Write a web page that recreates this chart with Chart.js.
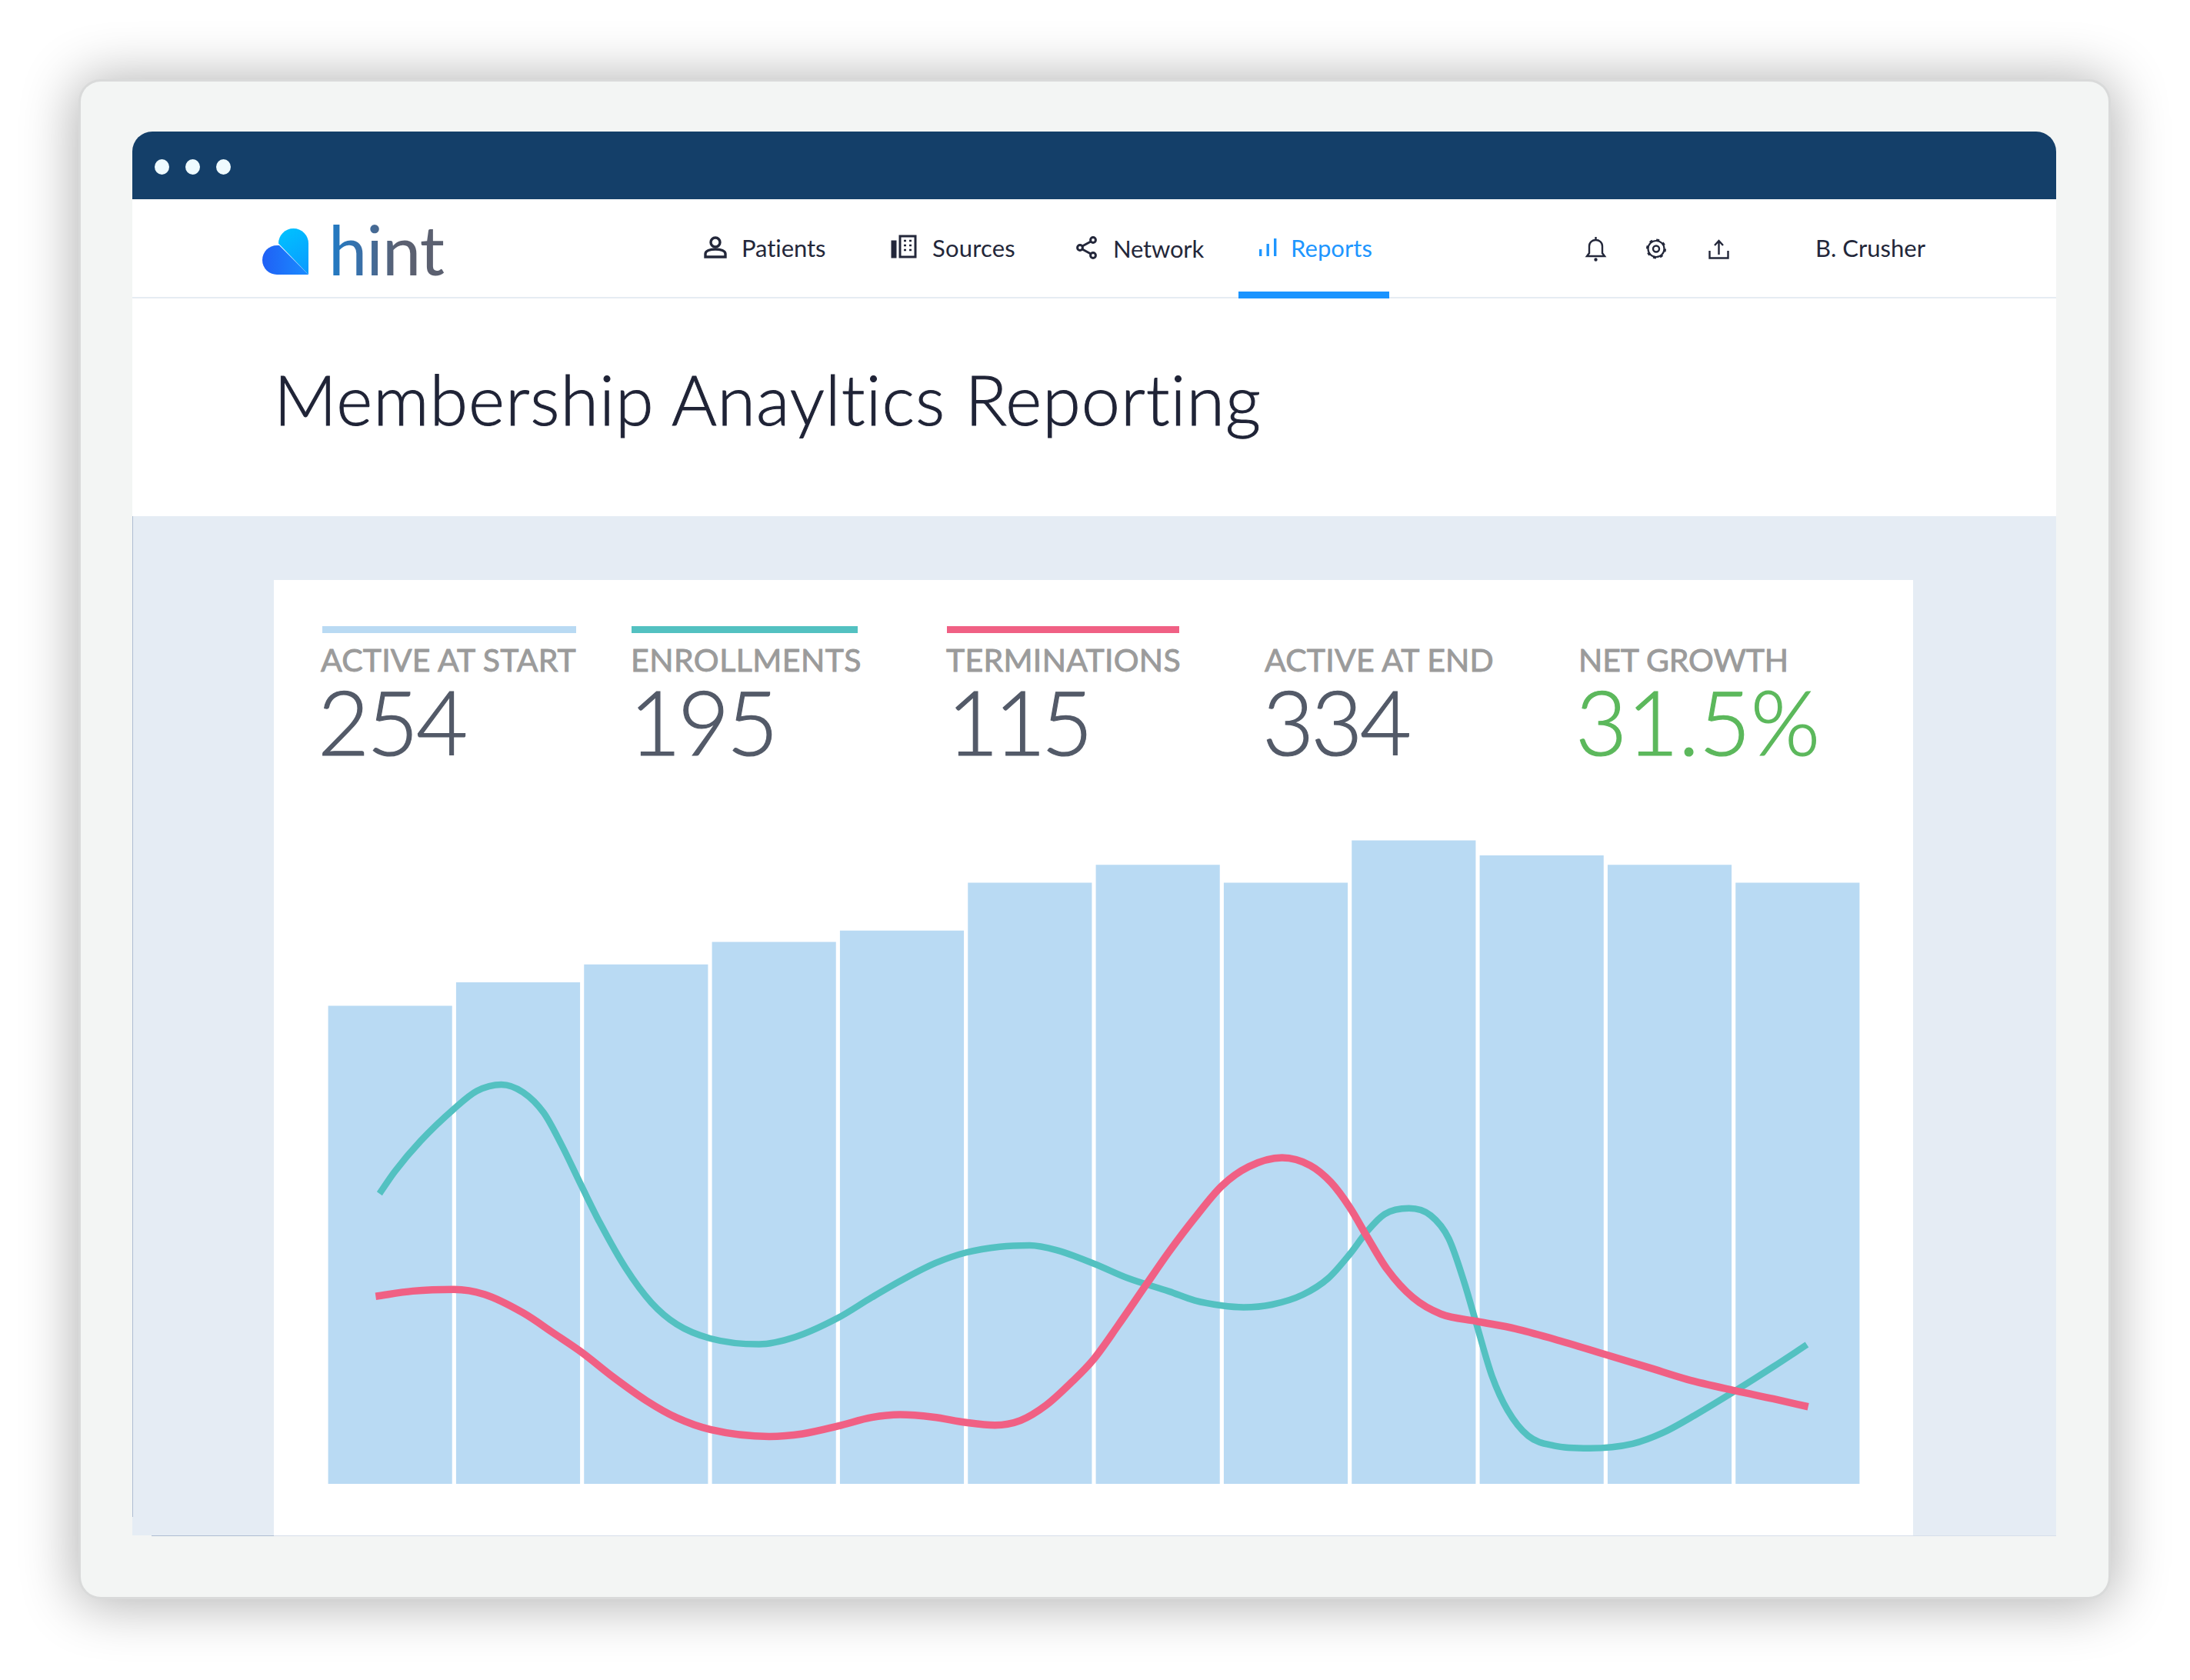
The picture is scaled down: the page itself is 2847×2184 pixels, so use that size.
<!DOCTYPE html>
<html>
<head>
<meta charset="utf-8">
<title>Membership Anayltics Reporting</title>
<script src="https://cdn.jsdelivr.net/npm/chart.js@4"></script>
<style>
  html, body { margin: 0; background: #fff; }
  #page { position: relative; width: 2847px; height: 2184px; overflow: hidden; font-family: Lato, "Open Sans", sans-serif; }
  .box { position: absolute; }
  .txt { position: absolute; white-space: nowrap; line-height: 1; }
  .nav { font-size: 31px; font-weight: 400; color: #23273A; }
  .label { font-size: 41px; font-weight: 400; color: #9B9B9B; -webkit-text-stroke: 0.9px #9B9B9B; }
  .num { font-size: 116px; font-weight: 300; color: #535A68; -webkit-text-stroke: 1.2px #535A68; }
  svg { position: absolute; overflow: visible; }
  canvas { position: absolute; left: 424px; top: 1061px; }
</style>
</head>
<body>
<div id="page">
  <div class="box" style="left:105px;top:106px;width:2636px;height:1970px;background:#F3F5F4;border-radius:26px;box-shadow:0 0 0 3px #D9DADA,0 3px 70px 8px rgba(0,0,0,.30)"></div>
  <div class="box" style="left:172px;top:259px;width:2501px;height:412px;background:#fff"></div>
  <div class="box" style="left:172px;top:671px;width:2501px;height:1325px;background:#E5ECF4"></div>
  <div class="box" style="left:172px;top:671px;width:1px;height:1301px;background:#AEBDD2"></div>
  <div class="box" style="left:197px;top:1996px;width:159px;height:1px;background:#AEBDD2"></div>
  <div class="box" style="left:356px;top:1996px;width:2317px;height:1px;background:#D6DFEB"></div>
  <div class="box" style="left:356px;top:754px;width:2131px;height:1242px;background:#fff"></div>

  <!-- window bar -->
  <div class="box" style="left:172px;top:171px;width:2501px;height:88px;background:#143F69;border-radius:26px 26px 0 0"></div>
  <div class="box" style="left:201px;top:207px;width:19px;height:20px;border-radius:50%;background:#EFFBFF"></div>
  <div class="box" style="left:241px;top:207px;width:19px;height:20px;border-radius:50%;background:#EFFBFF"></div>
  <div class="box" style="left:281px;top:207px;width:19px;height:20px;border-radius:50%;background:#EFFBFF"></div>

  <!-- nav -->
  <div class="box" style="left:172px;top:386px;width:2501px;height:2px;background:#E6ECF3"></div>
  <div class="box" style="left:1610px;top:379px;width:196px;height:9px;background:#1A94FF"></div>

  <svg style="left:341px;top:297px" width="60" height="60" viewBox="0 0 60 60">
    <defs>
      <linearGradient id="logoBack" x1="0.3" y1="0" x2="0.7" y2="1"><stop offset="0" stop-color="#00C0FF"/><stop offset="1" stop-color="#0A9CFF"/></linearGradient>
      <linearGradient id="logoFront" x1="0" y1="0" x2="1" y2="0"><stop offset="0" stop-color="#2060F5"/><stop offset="1" stop-color="#1A8CFF"/></linearGradient>
    </defs>
    <path d="M21 19.500 A19.500 19.500 0 0 1 60 19.500 V60 Z" fill="url(#logoBack)"/>
    <path d="M60 60 H19 A19 19 0 0 1 19 22 H22 Z" fill="url(#logoFront)"/>
  </svg>
  <div class="txt" id="logoText" data-w="150" style="left:427px;top:278px;font-size:90px;font-weight:400;background:linear-gradient(90deg,#1F7BC6 0%,#3B6FA6 30%,#5B6070 60%);-webkit-background-clip:text;background-clip:text;color:transparent">hint</div>

  <svg style="left:915px;top:307px" width="30" height="29" viewBox="0 0 30 29" fill="none" stroke="#23273A" stroke-width="3.4">
    <circle cx="15" cy="8" r="6"/><path d="M2 27 V23 C2 19 8 17 15 17 C22 17 28 19 28 23 V27 Z"/>
  </svg>
  <div class="txt nav" data-w="110" style="left:964px;top:307px">Patients</div>
  <svg style="left:1159px;top:305px" width="33" height="30" viewBox="0 0 33 30" fill="none" stroke="#23273A" stroke-width="3">
    <rect x="11" y="2" width="20" height="27"/><rect x="1" y="9" width="4" height="20" fill="#23273A"/>
    <path d="M16 8h3M23 8h3M16 14h3M23 14h3M16 20h3M23 20h3" stroke-width="2.6"/>
  </svg>
  <div class="txt nav" data-w="108" style="left:1212px;top:307px">Sources</div>
  <svg style="left:1399px;top:307px" width="28" height="30" viewBox="0 0 28 30" fill="none" stroke="#23273A" stroke-width="3">
    <circle cx="22" cy="5" r="3.4"/><circle cx="5" cy="15" r="3.4"/><circle cx="22" cy="25" r="3.4"/><path d="M8 13 L19 7 M8 17 L19 23"/>
  </svg>
  <div class="txt nav" data-w="118" style="left:1447px;top:308px">Network</div>
  <svg style="left:1637px;top:310px" width="23" height="23" viewBox="0 0 23 23" fill="#1E96FF">
    <rect x="0" y="14" width="3.4" height="9"/><rect x="9.500" y="7" width="3.4" height="16"/><rect x="19" y="0" width="3.4" height="23"/>
  </svg>
  <div class="txt nav" data-w="106" style="left:1678px;top:307px;color:#1E96FF">Reports</div>

  <svg style="left:2062px;top:308px" width="25" height="31" viewBox="0 0 25 31" fill="none" stroke="#23273A" stroke-width="2.4">
    <path d="M1 25 H24 L21 21 V12 C21 7 17 4 12.500 4 C8 4 4 7 4 12 V21 Z"/><path d="M12.500 0 V4"/><circle cx="12.500" cy="29.500" r="1" fill="#23273A"/>
  </svg>
  <svg style="left:2139px;top:310px" width="28" height="27" viewBox="0 0 28 27" fill="none" stroke="#23273A">
    <circle cx="14" cy="13.500" r="10.500" stroke-width="2.2"/><circle cx="14" cy="13.500" r="12" stroke-width="2" stroke-dasharray="4 5.400"/><circle cx="14" cy="13.500" r="4" stroke-width="2.4"/>
  </svg>
  <svg style="left:2221px;top:311px" width="27" height="26" viewBox="0 0 27 26" fill="none" stroke="#23273A" stroke-width="2.4">
    <path d="M13.500 20 V2 M8 8 L13.500 2 L19 8 M1.500 15 V24.500 H25.500 V15"/>
  </svg>
  <div class="txt nav" data-w="143" style="left:2360px;top:307px">B. Crusher</div>

  <div class="txt" data-w="1287" style="left:356px;top:473px;font-size:90px;font-weight:300;color:#1F2336;-webkit-text-stroke:1px #1F2336">Membership Anayltics Reporting</div>

  <!-- summary -->
  <div class="box" style="left:419px;top:814px;width:330px;height:9px;background:#B9DAF3"></div>
  <div class="box" style="left:821px;top:814px;width:294px;height:9px;background:#53C1C1"></div>
  <div class="box" style="left:1231px;top:814px;width:302px;height:9px;background:#F06084"></div>

  <div class="txt label" data-w="332" style="left:417px;top:837px">ACTIVE AT START</div>
  <div class="txt label" data-w="300" style="left:820px;top:837px">ENROLLMENTS</div>
  <div class="txt label" data-w="305" style="left:1230px;top:837px">TERMINATIONS</div>
  <div class="txt label" data-w="298" style="left:1644px;top:837px">ACTIVE AT END</div>
  <div class="txt label" data-w="273" style="left:2052px;top:837px">NET GROWTH</div>

  <div class="txt num" id="numStart" data-w="192" style="left:413px;top:880px"></div>
  <div class="txt num" id="numEnroll" data-w="190" style="left:818px;top:880px"></div>
  <div class="txt num" id="numTerm" data-w="184" style="left:1231px;top:880px"></div>
  <div class="txt num" id="numEnd" data-w="190" style="left:1641px;top:880px"></div>
  <div class="txt num" id="numGrowth" data-w="318" style="left:2048px;top:880px;color:#5CB85C;-webkit-text-stroke:1.2px #5CB85C"></div>

  <canvas id="membershipChart" width="1996" height="868"></canvas>
</div>

<script>
// Summary figures
const summaryStart = '254';
const summaryEnroll = '195';
const summaryTerm = '115';
const summaryEnd = '334';
const summaryGrowth = '31.5%';

// Bars, one per month
const months = ['Jan', 'Feb', 'Mar', 'Apr', 'May', 'Jun', 'Jul', 'Aug', 'Sep', 'Oct', 'Nov', 'Dec'];
const activeMembers = [254, 266.5, 276, 288, 294, 319.5, 329, 319.5, 342, 334, 329, 319.5];

// Lines. Position is in months (0 = centre of first bar)
const enrollPos = [-0.083, 0.037, 0.238, 0.498, 0.678, 0.869, 1.039, 1.200, 1.340, 1.500, 1.640, 1.840, 2.041, 2.241, 2.502, 2.883, 3.163, 3.500, 3.764, 4.025, 4.266, 4.502, 4.767, 4.997, 5.207, 5.500, 5.769, 6.089, 6.289, 6.500, 6.671, 6.891, 7.131, 7.332, 7.502, 7.632, 7.773, 7.963, 8.133, 8.273, 8.394, 8.494, 8.614, 8.734, 8.895, 9.095, 9.374, 9.711, 9.943, 10.218, 10.514, 10.809, 11.073];
const enrollVal = [154.3, 166.1, 182.3, 199.3, 208.9, 212.3, 208.2, 197.3, 180.2, 157.8, 138.7, 114.8, 96.4, 84.8, 77.3, 74.2, 78.0, 88.2, 99.1, 109.3, 117.5, 123.0, 126.1, 126.8, 124.3, 117.1, 109.3, 102.3, 97.5, 94.8, 93.9, 95.3, 100.5, 109.3, 122.3, 133.9, 143.4, 146.5, 142.7, 130.5, 107.3, 84.1, 56.9, 39.1, 25.5, 20.3, 18.9, 21.3, 27.0, 37.3, 49.5, 62.2, 74.0];
const termPos = [-0.113, 0.178, 0.498, 0.738, 1.039, 1.280, 1.500, 1.741, 2.001, 2.241, 2.502, 2.963, 3.223, 3.500, 3.764, 3.985, 4.245, 4.502, 4.726, 4.927, 5.127, 5.327, 5.500, 5.688, 5.909, 6.089, 6.289, 6.500, 6.710, 6.971, 7.191, 7.352, 7.502, 7.632, 7.792, 7.993, 8.213, 8.494, 8.795, 9.095, 9.501, 9.838, 10.134, 10.514, 10.809, 11.083];
const termVal = [99.7, 102.5, 103.4, 100.7, 90.9, 80.0, 69.8, 56.9, 44.3, 35.1, 28.9, 25.2, 26.6, 30.7, 35.3, 36.8, 35.5, 32.6, 31.2, 33.7, 41.8, 54.1, 66.4, 84.1, 105.9, 123.5, 141.4, 158.4, 168.6, 173.4, 169.3, 160.4, 146.8, 131.8, 114.1, 99.1, 90.3, 86.4, 82.5, 77.0, 68.7, 61.8, 55.6, 49.5, 45.2, 41.0];

document.getElementById('numStart').textContent = summaryStart;
document.getElementById('numEnroll').textContent = summaryEnroll;
document.getElementById('numTerm').textContent = summaryTerm;
document.getElementById('numEnd').textContent = summaryEnd;
document.getElementById('numGrowth').textContent = summaryGrowth;

// Squeeze each text to the width it has in the reference
document.querySelectorAll('[data-w]').forEach(el => {
    const extra = Number(el.dataset.w) - el.getBoundingClientRect().width;
    el.style.letterSpacing = (extra / el.textContent.length) + 'px';
});

const ctx = document.getElementById('membershipChart').getContext('2d');
new Chart(ctx, {
    data: {
        labels: months,
        datasets: [
            {
                type: 'line',
                label: 'Terminations',
                data: termPos.map((x, i) => ({ x, y: termVal[i] })),
                borderColor: '#F06084',
                borderWidth: 9.5,
                pointRadius: 0,
                cubicInterpolationMode: 'monotone',
                order: 1
            },
            {
                type: 'line',
                label: 'Enrollments',
                data: enrollPos.map((x, i) => ({ x, y: enrollVal[i] })),
                borderColor: '#53C1C1',
                borderWidth: 8.5,
                pointRadius: 0,
                cubicInterpolationMode: 'monotone',
                order: 2
            },
            {
                type: 'bar',
                label: 'Active at start',
                data: months.map((m, i) => ({ x: i, y: activeMembers[i] })),
                backgroundColor: '#B9DAF3',
                barThickness: 160.5,
                order: 3
            }
        ]
    },
    options: {
        responsive: false,
        animation: false,
        layout: { padding: 0 },
        plugins: {
            legend: { display: false },
            tooltip: { enabled: false }
        },
        scales: {
            x: { type: 'linear', display: false, offset: false, min: -0.5, max: 11.5 },
            y: { display: false, min: 0, max: 355 }
        }
    }
});
</script>
</body>
</html>
